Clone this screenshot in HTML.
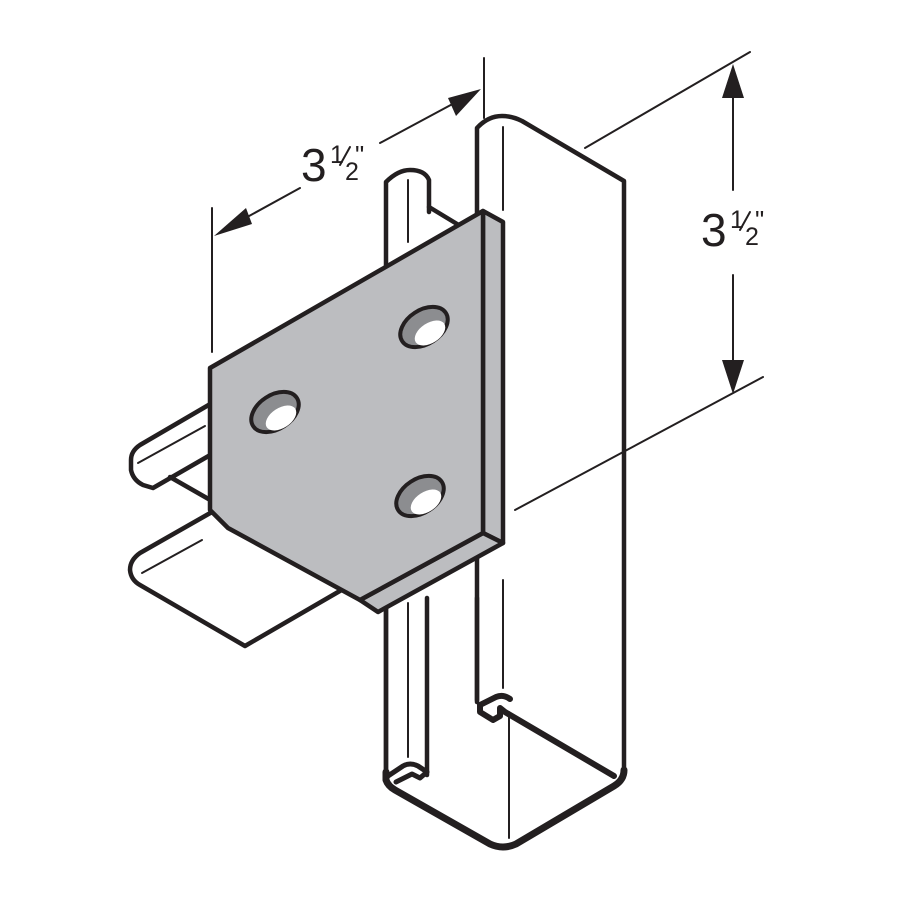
<!DOCTYPE html>
<html><head><meta charset="utf-8"><style>
html,body{margin:0;padding:0;background:#fff;width:900px;height:900px;overflow:hidden}
svg{display:block}
text{font-family:"Liberation Sans",sans-serif;fill:#231f20}
</style></head><body>
<svg width="900" height="900" viewBox="0 0 900 900" xmlns="http://www.w3.org/2000/svg">
<g fill="none" stroke="#231f20" stroke-linejoin="round" stroke-linecap="round">
<!-- dimension lines -->
<g stroke-width="2">
<line x1="484" y1="58" x2="484" y2="118"/>
<line x1="212" y1="208" x2="212" y2="352"/>
<line x1="240" y1="221" x2="300" y2="188"/>
<line x1="380" y1="143" x2="460" y2="100"/>
<line x1="585" y1="148" x2="750" y2="52"/>
<line x1="515" y1="510" x2="763" y2="377"/>
<line x1="733" y1="90" x2="733" y2="190"/>
<line x1="733" y1="275" x2="733" y2="370"/>
</g>
<g fill="#231f20" stroke="none">
<polygon points="214,236 246,208 252,224"/>
<polygon points="481,89 448,98 456,116"/>
<polygon points="733,64 722,98 744,98"/>
<polygon points="733,394 722,360 744,360"/>
</g>
<!-- main channel -->
<g stroke-width="4.5">
<path d="M477,700 L477,128 Q488,116 502,116 Q512,116 522,121 L624,181 L624,770"/>
<path d="M386,770 L386,182 Q398,170 410,170 Q425,170 429,180 L429,212"/>
<line x1="429" y1="207" x2="462" y2="227"/>
<path d="M386,598 L386,770"/>
<path d="M427,598 L427,775"/>
<path d="M477,598 L477,702"/>
<!-- bottom profile -->
<path d="M386,772 L386,780 Q388,786 395,790 L490,844 Q503,850 516,844 L614,786 Q624,780 624,770" stroke-width="7"/>
<path d="M388,776 L403,766 Q410,762 418,766 L427,772 L420,778 L412,774 L396,782" stroke-width="5"/>
<path d="M480,705 L480,712 L493,720 L500,716 L500,708 L505,712 L614,776" stroke-width="6"/>
<path d="M480,705 L496,697 Q503,694 510,699" stroke-width="6"/>
</g>
<g stroke-width="2">
<line x1="503" y1="127" x2="503" y2="210"/>
<line x1="503" y1="580" x2="503" y2="688"/>
<line x1="509" y1="712" x2="509" y2="838"/>
<line x1="408" y1="180" x2="408" y2="242"/>
<line x1="408" y1="603" x2="408" y2="757"/>
</g>
<!-- left arms -->
<g stroke-width="4.5" fill="#fff">
<path d="M212,403 L140,445 Q131,451 131,460 L131,470 Q133,480 143,485 L153,488 L212,454"/>
<path d="M170,477 L212,501" fill="none"/>
<path d="M212,512 L140,553 Q130,560 130,570 Q131,580 140,585 L245,646 L345,588"/>
</g>
<g stroke-width="2">
<line x1="138" y1="463" x2="205" y2="426"/>
<line x1="142" y1="573" x2="202" y2="540"/>
</g>
<!-- plate -->
<g stroke-width="4.5" fill="#bcbdc0">
<polygon points="483,211 503,222 503,543 483,533"/>
<polygon points="483,533 503,543 378,612 360,600"/>
<polygon points="210,368 483,211 483,533 360,600 228,528 210,510"/>
</g>
<!-- holes -->
<g stroke-width="4" fill="#8c8d90">
<ellipse cx="275" cy="412" rx="26" ry="17" transform="rotate(-33 275 412)"/>
<ellipse cx="424" cy="327" rx="26" ry="17" transform="rotate(-33 424 327)"/>
<ellipse cx="420" cy="496" rx="26" ry="17" transform="rotate(-33 420 496)"/>
</g>
<g fill="#fff" stroke="none">
<ellipse cx="281" cy="418" rx="17" ry="10" transform="rotate(-33 281 418)"/>
<ellipse cx="430" cy="333" rx="17" ry="10" transform="rotate(-33 430 333)"/>
<ellipse cx="426" cy="502" rx="17" ry="10" transform="rotate(-33 426 502)"/>
</g>
<line x1="340" y1="165" x2="350" y2="147" stroke="#231f20" stroke-width="2"/>
<line x1="740" y1="230" x2="750" y2="212" stroke="#231f20" stroke-width="2"/>
</g>
<text x="301" y="181" font-size="46">3</text>
<text x="330" y="163" font-size="25">1</text>
<text x="345" y="180" font-size="25">2</text>
<text x="355" y="164" font-size="26">"</text>
<text x="701" y="246" font-size="46">3</text>
<text x="730" y="228" font-size="25">1</text>
<text x="745" y="245" font-size="25">2</text>
<text x="755" y="229" font-size="26">"</text>
</svg>
</body></html>
